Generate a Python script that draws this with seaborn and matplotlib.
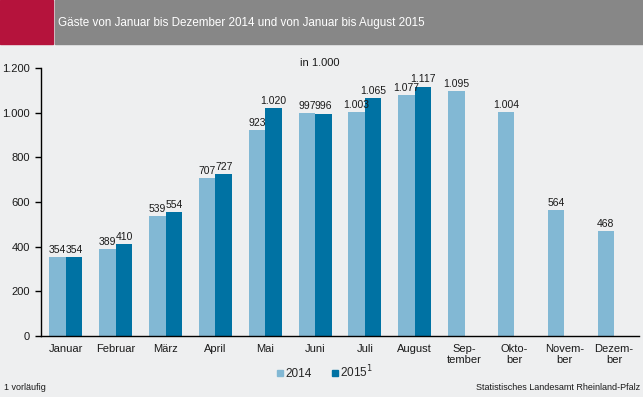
import matplotlib
matplotlib.use("Agg")
import matplotlib.pyplot as plt
import matplotlib.patches as mpatches
from matplotlib.lines import Line2D
import seaborn as sns
import pandas as pd
import numpy as np

months = ["Januar", "Februar", "März", "April", "Mai", "Juni", "Juli", "August",
          "Sep-\ntember", "Okto-\nber", "Novem-\nber", "Dezem-\nber"]
vals_2014 = [354, 389, 539, 707, 923, 997, 1003, 1077, 1095, 1004, 564, 468]
vals_2015 = [354, 410, 554, 727, 1020, 996, 1065, 1117, np.nan, np.nan, np.nan, np.nan]
years = ["2014", "2015"]
yticks = [0, 200, 400, 600, 800, 1000, 1200]

df = pd.DataFrame({
    "Monat": months * 2,
    "Jahr": [years[0]] * 12 + [years[1]] * 12,
    "Wert": vals_2014 + vals_2015,
})

c14 = "#82b8d4"
c15 = "#0072a3"
bg = "#eeeff0"
txt = "#1a1a1a"

sns.set_theme(style="white")
plt.rcParams["font.family"] = ["Liberation Sans", "DejaVu Sans"]

fig = plt.figure(figsize=(6.43, 3.97), dpi=100, facecolor=bg)
ax = fig.add_axes([41 / 643, 1 - 336 / 397, 598 / 643, 268 / 397])
ax.set_facecolor(bg)

sns.barplot(data=df, x="Monat", y="Wert", hue="Jahr", order=months,
            hue_order=years, palette=[c14, c15], width=0.66, gap=0,
            saturation=1, ax=ax, legend=False, errorbar=None,
            edgecolor="none", linewidth=0)

def fmt(v):
    return f"{v:,.0f}".replace(",", ".")

for cont in ax.containers:
    labels = [fmt(b.get_height()) if np.isfinite(b.get_height()) and b.get_height() > 0 else ""
              for b in cont]
    ax.bar_label(cont, labels=labels, padding=1.5, fontsize=7.5, color=txt)

ax.set_ylim(0, 1200)
ax.set_xlim(-0.5, 11.5)
ax.set_yticks(yticks)
ax.set_yticklabels([fmt(t) for t in yticks], fontsize=8, color=txt)
ax.set_xticks(range(12))
ax.set_xticklabels(months, fontsize=8, color=txt, linespacing=1.1)
ax.tick_params(axis="x", which="major", length=0, pad=6)
ax.set_xticks(np.arange(0.5, 11.5, 1), minor=True)
ax.tick_params(axis="x", which="minor", length=5, width=1, color="black", direction="out")
ax.tick_params(axis="y", length=4, width=1, color="black", direction="out", pad=4, left=True)
ax.set_xlabel("")
ax.set_ylabel("")
for s in ["top", "right"]:
    ax.spines[s].set_visible(False)
for s in ["left", "bottom"]:
    ax.spines[s].set_color("black")
    ax.spines[s].set_linewidth(1)
ax.grid(False)

# header
fig.patches.append(mpatches.Rectangle((0, 1 - 44 / 397), 53 / 643, 44 / 397,
                                      transform=fig.transFigure, color="#b5133c", zorder=0))
fig.patches.append(mpatches.Rectangle((55 / 643, 1 - 44 / 397), 588 / 643, 44 / 397,
                                      transform=fig.transFigure, color="#878787", zorder=0))
fig.text(58 / 643, 1 - 23 / 397, "Gäste von Januar bis Dezember 2014 und von Januar bis August 2015",
         color="white", fontsize=8.4, va="center", ha="left")

fig.text(320 / 643, 1 - 63 / 397, "in 1.000", fontsize=8, ha="center", va="center", color=txt)

handles = [Line2D([], [], marker="s", linestyle="", markersize=5, color=c14),
           Line2D([], [], marker="s", linestyle="", markersize=5, color=c15)]
fig.legend(handles, ["2014", "2015$^{1}$"], loc="center", bbox_to_anchor=(324 / 643, 1 - 372 / 397),
           ncol=2, frameon=False, fontsize=8.5, handletextpad=0.05, columnspacing=1.6,
           handlelength=0.8)

fig.text(4 / 643, 1 - 388 / 397, "1 vorläufig", fontsize=6.5, ha="left", va="center", color=txt)
fig.text(640 / 643, 1 - 388 / 397, "Statistisches Landesamt Rheinland-Pfalz", fontsize=6.5,
         ha="right", va="center", color=txt)

fig.savefig("out.png", dpi=100, facecolor=bg)
